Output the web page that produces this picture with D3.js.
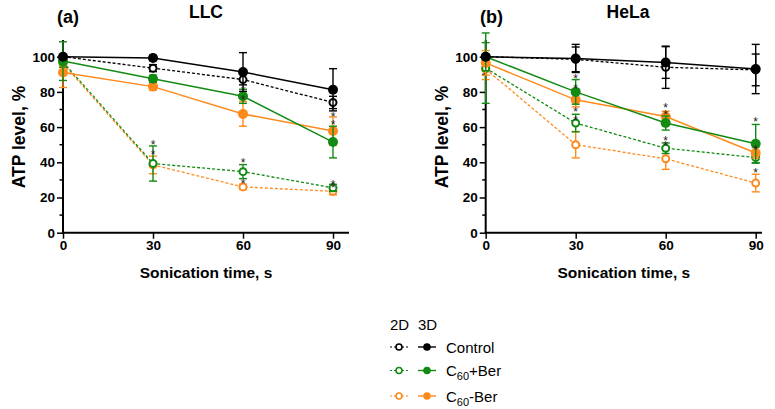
<!DOCTYPE html>
<html>
<head>
<meta charset="utf-8">
<script src="https://cdn.jsdelivr.net/npm/d3@7"></script>
<style>
  body { margin: 0; background: #fff; }
  text { font-family: Arial, "Liberation Sans", sans-serif; }
</style>
</head>
<body>
<div id="chart"></div>
<script>
/* sonication times */
var times = [0, 30, 60, 90];
var yTicks = [0, 20, 40, 60, 80, 100];

/* LLC panel: mean and error */
var llcControl3D = [100, 99.3, 91.3, 81.2];
var llcControl3DErr = [0, 1.5, 11, 12];
var llcControl2D = [100, 93.5, 87, 74];
var llcControl2DErr = [0, 2, 3, 3.5];
var llcPlus3D = [97.5, 87.5, 77.5, 51.5];
var llcPlus3DErr = [11, 2, 4, 9];
var llcPlus2D = [97, 39.3, 34.7, 25.5];
var llcPlus2DErr = [3, 10, 4, 2];
var llcMinus3D = [91, 83, 67.5, 57.8];
var llcMinus3DErr = [8.5, 2, 7, 8];
var llcMinus2D = [96, 38.5, 26, 23.5];
var llcMinus2DErr = [4, 5, 1.5, 2];
var llcStars = [[30, 51], [30, 45.5], [60, 81.5], [60, 76.5], [60, 40.5], [60, 29], [90, 67], [90, 62.5], [90, 28.5], [90, 26.5]];

/* HeLa panel */
var helaControl3D = [100, 99, 96.7, 93];
var helaControl3DErr = [0, 8, 9, 14];
var helaControl2D = [100, 98.5, 94, 92.5];
var helaControl2DErr = [0, 7, 12, 9];
var helaPlus3D = [100, 80, 62.3, 50.5];
var helaPlus3DErr = [8, 7, 4, 11];
var helaPlus2D = [93.5, 62.3, 48, 42.7];
var helaPlus2DErr = [20, 5, 3, 3];
var helaMinus3D = [96.5, 75.5, 66, 45.3];
var helaMinus3DErr = [7, 4, 3, 3];
var helaMinus2D = [93, 50, 42, 28.2];
var helaMinus2DErr = [6, 7.5, 6, 5];
var helaStars = [[30, 88.5], [30, 83], [30, 69.5], [30, 64.5], [60, 72], [60, 68], [60, 53], [60, 50.5], [90, 63.8], [90, 48], [90, 34.8]];

var black = "#000000", green = "#138a13", orange = "#ff8a1c";

var svg = d3.select("#chart")
    .append("svg")
    .attr("width", 775)
    .attr("height", 409);

/* draws one panel */
function drawPanel(opt) {
    var x = d3.scaleLinear().domain([0, 90]).range([opt.left, opt.left + 270]);
    var y = d3.scaleLinear().domain([0, 100]).range([232.7, 56.7]);
    var g = svg.append("g");

    /* y axis with minor ticks */
    g.append("line")
        .attr("x1", opt.left).attr("x2", opt.left)
        .attr("y1", y(0)).attr("y2", y(109.5))
        .attr("stroke", "#000").attr("stroke-width", 2);
    d3.range(10, 110, 20).forEach(function (v) {
        g.append("line")
            .attr("x1", opt.left - 3.5).attr("x2", opt.left)
            .attr("y1", y(v)).attr("y2", y(v))
            .attr("stroke", "#000").attr("stroke-width", 1.5);
    });
    var yAxis = d3.axisLeft(y).tickValues(yTicks).tickSize(6).tickPadding(2);
    var ya = g.append("g")
        .attr("transform", "translate(" + opt.left + ",0)")
        .call(yAxis);
    ya.select(".domain").remove();
    ya.selectAll("line").attr("stroke-width", 1.5);
    ya.selectAll("text").attr("font-size", 13.5).attr("font-weight", "bold")
        .attr("font-family", "Arial, Liberation Sans, sans-serif");

    /* x axis */
    g.append("line")
        .attr("x1", opt.left - 1).attr("x2", opt.xEnd)
        .attr("y1", y(0)).attr("y2", y(0))
        .attr("stroke", "#000").attr("stroke-width", 2);
    var xAxis = d3.axisBottom(x).tickValues(times).tickSize(6).tickPadding(2);
    var xa = g.append("g")
        .attr("transform", "translate(0," + y(0) + ")")
        .call(xAxis);
    xa.select(".domain").remove();
    xa.selectAll("line").attr("stroke-width", 1.5);
    xa.selectAll("text").attr("font-size", 13.5).attr("font-weight", "bold")
        .attr("font-family", "Arial, Liberation Sans, sans-serif");

    /* titles */
    g.append("text")
        .attr("x", opt.tagX).attr("y", 23)
        .attr("font-size", 18).attr("font-weight", "bold")
        .text(opt.tag);
    g.append("text")
        .attr("x", opt.titleX).attr("y", 18)
        .attr("text-anchor", "middle")
        .attr("font-size", 17.5).attr("font-weight", "bold")
        .text(opt.title);
    g.append("text")
        .attr("transform", "translate(" + (opt.left - 38) + ",137) rotate(-90)")
        .attr("text-anchor", "middle")
        .attr("font-size", 17.5).attr("font-weight", "bold")
        .text("ATP level, %");
    g.append("text")
        .attr("x", (opt.left + opt.xEnd) / 2).attr("y", 278)
        .attr("text-anchor", "middle")
        .attr("font-size", 15.5).attr("font-weight", "bold")
        .text("Sonication time, s");

    var line = d3.line()
        .x(function (d, i) { return x(times[i]); })
        .y(function (d) { return y(d); });

    /* each series: lines, error bars, markers */
    opt.series.forEach(function (s) {
        var sg = g.append("g");
        sg.append("path")
            .attr("d", line(s.values))
            .attr("fill", "none")
            .attr("stroke", s.color)
            .attr("stroke-width", s.open ? 1.3 : 1.5)
            .attr("stroke-dasharray", s.open ? "3,2" : null);
        s.values.forEach(function (v, i) {
            var e = s.err[i];
            if (e <= 0) return;
            var cx = x(times[i]);
            sg.append("line")
                .attr("x1", cx).attr("x2", cx)
                .attr("y1", y(v - e)).attr("y2", y(v + e))
                .attr("stroke", s.color).attr("stroke-width", 1.4);
            [v - e, v + e].forEach(function (c) {
                sg.append("line")
                    .attr("x1", cx - 4).attr("x2", cx + 4)
                    .attr("y1", y(c)).attr("y2", y(c))
                    .attr("stroke", s.color).attr("stroke-width", 1.4);
            });
        });
        sg.selectAll("circle")
            .data(s.values)
            .enter().append("circle")
            .attr("cx", function (d, i) { return x(times[i]); })
            .attr("cy", function (d) { return y(d); })
            .attr("r", s.open ? 3.5 : 5)
            .attr("fill", s.open ? "#fff" : s.color)
            .attr("stroke", s.color)
            .attr("stroke-width", s.open ? 2 : 0);
    });

    /* significance marks */
    g.selectAll(".star")
        .data(opt.stars)
        .enter().append("text")
        .attr("class", "star")
        .attr("x", function (d) { return x(d[0]); })
        .attr("y", function (d) { return y(d[1]) + 6; })
        .attr("text-anchor", "middle")
        .attr("font-size", 12)
        .attr("fill", "#222")
        .text("*");
}

drawPanel({
    left: 63, xEnd: 349, tag: "(a)", tagX: 57, title: "LLC", titleX: 206, stars: llcStars,
    series: [
        { values: llcMinus2D, err: llcMinus2DErr, color: orange, open: true },
        { values: llcPlus2D, err: llcPlus2DErr, color: green, open: true },
        { values: llcControl2D, err: llcControl2DErr, color: black, open: true },
        { values: llcMinus3D, err: llcMinus3DErr, color: orange, open: false },
        { values: llcPlus3D, err: llcPlus3DErr, color: green, open: false },
        { values: llcControl3D, err: llcControl3DErr, color: black, open: false }
    ]
});

drawPanel({
    left: 485.7, xEnd: 762, tag: "(b)", tagX: 480, title: "HeLa", titleX: 628, stars: helaStars,
    series: [
        { values: helaMinus2D, err: helaMinus2DErr, color: orange, open: true },
        { values: helaPlus2D, err: helaPlus2DErr, color: green, open: true },
        { values: helaControl2D, err: helaControl2DErr, color: black, open: true },
        { values: helaMinus3D, err: helaMinus3DErr, color: orange, open: false },
        { values: helaPlus3D, err: helaPlus3DErr, color: green, open: false },
        { values: helaControl3D, err: helaControl3DErr, color: black, open: false }
    ]
});

/* legend */
var legendRows = [
    { color: black, label: ["Control"] },
    { color: green, label: ["C", "60", "+Ber"] },
    { color: orange, label: ["C", "60", "-Ber"] }
];
var legend = svg.append("g");
legend.append("text").attr("x", 390).attr("y", 330).attr("font-size", 15).text("2D");
legend.append("text").attr("x", 418).attr("y", 330).attr("font-size", 15).text("3D");
var rowY = [347, 370.5, 396];
legendRows.forEach(function (r, i) {
    var cy = rowY[i];
    legend.append("line")
        .attr("x1", 390).attr("x2", 408).attr("y1", cy).attr("y2", cy)
        .attr("stroke", r.color).attr("stroke-width", 1.2).attr("stroke-dasharray", "2,2");
    legend.append("circle").attr("cx", 399).attr("cy", cy).attr("r", 3)
        .attr("fill", "#fff").attr("stroke", r.color).attr("stroke-width", 1.6);
    legend.append("line")
        .attr("x1", 418).attr("x2", 436).attr("y1", cy).attr("y2", cy)
        .attr("stroke", r.color).attr("stroke-width", 1.4);
    legend.append("circle").attr("cx", 427).attr("cy", cy).attr("r", 3.8)
        .attr("fill", r.color);
    var t = legend.append("text").attr("x", 446).attr("y", cy + 5.5).attr("font-size", 15);
    t.append("tspan").text(r.label[0]);
    if (r.label.length > 1) {
        t.append("tspan").attr("font-size", 11).attr("dy", 4).text(r.label[1]);
        t.append("tspan").attr("dy", -4).text(r.label[2]);
    }
});
</script>
</body>
</html>
